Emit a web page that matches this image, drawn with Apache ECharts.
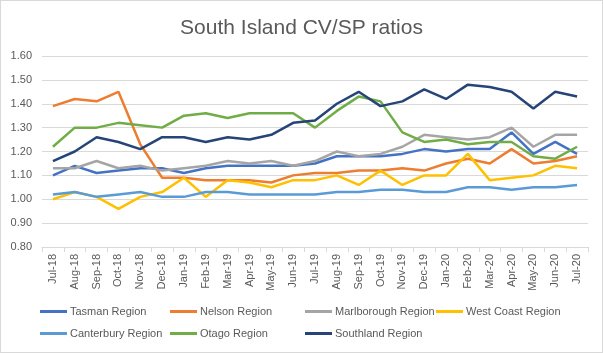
<!DOCTYPE html>
<html>
<head>
<meta charset="utf-8">
<script src="https://cdn.jsdelivr.net/npm/echarts@6/dist/echarts.min.js"></script>
<style>
  html, body { margin: 0; padding: 0; background: #fff; }
  #chart { width: 601px; height: 351px; border: 1px solid #d9d9d9; }
</style>
</head>
<body>
<div id="chart"></div>
<script>
// months along the x axis
var months = ["Jul-18", "Aug-18", "Sep-18", "Oct-18", "Nov-18", "Dec-18", "Jan-19", "Feb-19", "Mar-19",
  "Apr-19", "May-19", "Jun-19", "Jul-19", "Aug-19", "Sep-19", "Oct-19", "Nov-19", "Dec-19", "Jan-20",
  "Feb-20", "Mar-20", "Apr-20", "May-20", "Jun-20", "Jul-20"];

var tasman = [1.10, 1.14, 1.11, 1.12, 1.13, 1.13, 1.11, 1.13, 1.14, 1.14, 1.14, 1.14, 1.15, 1.18, 1.18,
  1.18, 1.19, 1.21, 1.20, 1.21, 1.21, 1.28, 1.19, 1.24, 1.19];
var nelson = [1.39, 1.42, 1.41, 1.45, 1.23, 1.09, 1.09, 1.08, 1.08, 1.08, 1.07, 1.10, 1.11, 1.11, 1.12,
  1.12, 1.13, 1.12, 1.15, 1.17, 1.15, 1.21, 1.15, 1.16, 1.18];
var marlborough = [1.13, 1.13, 1.16, 1.13, 1.14, 1.12, 1.13, 1.14, 1.16, 1.15, 1.16, 1.14, 1.16, 1.20, 1.18,
  1.19, 1.22, 1.27, 1.26, 1.25, 1.26, 1.30, 1.22, 1.27, 1.27];
var westCoast = [1.00, 1.03, 1.01, 0.96, 1.01, 1.03, 1.09, 1.01, 1.08, 1.07, 1.05, 1.08, 1.08, 1.10, 1.06,
  1.12, 1.06, 1.10, 1.10, 1.19, 1.08, 1.09, 1.10, 1.14, 1.13];
var canterbury = [1.02, 1.03, 1.01, 1.02, 1.03, 1.01, 1.01, 1.03, 1.03, 1.02, 1.02, 1.02, 1.02, 1.03, 1.03,
  1.04, 1.04, 1.03, 1.03, 1.05, 1.05, 1.04, 1.05, 1.05, 1.06];
var otago = [1.22, 1.30, 1.30, 1.32, 1.31, 1.30, 1.35, 1.36, 1.34, 1.36, 1.36, 1.36, 1.30, 1.37, 1.43,
  1.41, 1.28, 1.24, 1.25, 1.23, 1.24, 1.24, 1.18, 1.17, 1.22];
var southland = [1.16, 1.20, 1.26, 1.24, 1.21, 1.26, 1.26, 1.24, 1.26, 1.25, 1.27, 1.32, 1.33, 1.40, 1.45,
  1.39, 1.41, 1.46, 1.42, 1.48, 1.47, 1.45, 1.38, 1.45, 1.43];

var regions = [
  { name: "Tasman Region", data: tasman, color: "#4472C4", left: 40, top: 305 },
  { name: "Nelson Region", data: nelson, color: "#ED7D31", left: 170, top: 305 },
  { name: "Marlborough Region", data: marlborough, color: "#A5A5A5", left: 305, top: 305 },
  { name: "West Coast Region", data: westCoast, color: "#FFC000", left: 436, top: 305 },
  { name: "Canterbury Region", data: canterbury, color: "#5B9BD5", left: 40, top: 327 },
  { name: "Otago Region", data: otago, color: "#70AD47", left: 170, top: 327 },
  { name: "Southland Region", data: southland, color: "#264478", left: 305, top: 327 }
];

var textColor = "#595959";
var font = "Liberation Sans";

var chart = echarts.init(document.getElementById("chart"));

var option = {
  animation: false,
  color: regions.map(function (r) { return r.color; }),
  title: {
    text: "South Island CV/SP ratios",
    left: "center",
    top: 12,
    textStyle: { color: textColor, fontSize: 21, fontWeight: "normal", fontFamily: font }
  },
  // one legend per item so the columns sit like the original
  legend: regions.map(function (r) {
    return {
      data: [r.name],
      left: r.left - 1,
      top: r.top,
      icon: "rect",
      itemWidth: 27,
      itemHeight: 3,
      itemGap: 0,
      padding: 0,
      textStyle: { color: textColor, fontSize: 11, fontFamily: font, padding: [0, 0, 0, -2] }
    };
  }),
  grid: { left: 41, right: 14, top: 55, bottom: 105 },
  xAxis: {
    type: "category",
    data: months,
    boundaryGap: true,
    axisLine: { lineStyle: { color: "#d9d9d9" } },
    axisTick: { show: true, length: 5, lineStyle: { color: "#d9d9d9" } },
    axisLabel: { rotate: 90, interval: 0, color: textColor, fontSize: 11, fontFamily: font, margin: 7 }
  },
  yAxis: {
    type: "value",
    min: 0.8,
    max: 1.6,
    interval: 0.1,
    axisLine: { show: false },
    axisTick: { show: false },
    splitLine: { lineStyle: { color: "#d9d9d9" } },
    axisLabel: {
      color: textColor, fontSize: 11, fontFamily: font, margin: 10,
      formatter: function (v) { return v.toFixed(2); }
    }
  },
  series: regions.map(function (r) {
    return {
      name: r.name,
      type: "line",
      data: r.data,
      symbol: "none",
      lineStyle: { width: 2.5, color: r.color }
    };
  })
};

chart.setOption(option);
</script>
</body>
</html>
